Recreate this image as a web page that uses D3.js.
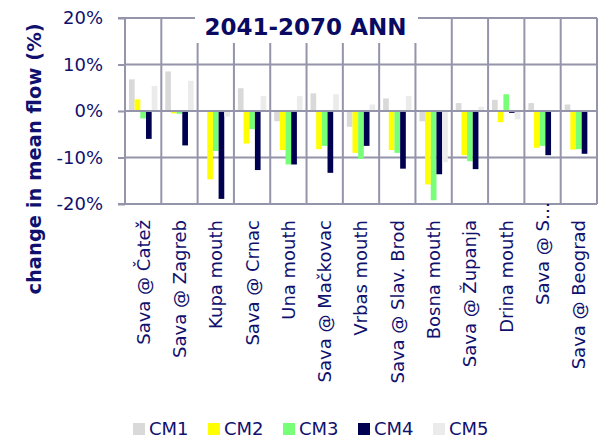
<!DOCTYPE html>
<html><head><meta charset="utf-8">
<script src="https://cdn.jsdelivr.net/npm/d3@7/dist/d3.min.js"></script>
<style>body{margin:0;background:#fff;} svg{display:block;font-family:"DejaVu Sans",Verdana,sans-serif;}</style>
</head><body>
<svg id="chart" width="599" height="438"></svg>
<script>
const categories = ["Sava @ Čatež","Sava @ Zagreb","Kupa mouth","Sava @ Crnac","Una mouth","Sava @ Mačkovac","Vrbas mouth","Sava @ Slav. Brod","Bosna mouth","Sava @ Županja","Drina mouth","Sava @ S…","Sava @ Beograd"];
const seriesNames = ["CM1","CM2","CM3","CM4","CM5"];
const cm1 = [6.8, 8.5, -0.2, 4.9, -2.2, 3.8, -3.4, 2.7, -2.2, 1.7, 2.4, 1.7, 1.4];
const cm2 = [2.5, -0.5, -14.7, -7.0, -8.4, -8.2, -9.0, -8.4, -15.8, -9.5, -2.4, -7.9, -8.3];
const cm3 = [-1.6, -0.6, -8.6, -3.9, -11.5, -7.5, -10.3, -9.0, -19.2, -10.8, 3.6, -7.5, -8.2];
const cm4 = [-6.0, -7.4, -18.9, -12.7, -11.5, -13.3, -7.5, -12.4, -13.6, -12.5, -0.4, -9.5, -9.2];
const cm5 = [5.4, 6.5, -1.2, 3.2, 3.2, 3.6, 1.4, 3.2, -11.0, 0.9, -1.8, 0.1, 0.1];
const yTicks = [20, 10, 0, -10, -20];
const title = "2041-2070 ANN";
const yTitle = "change in mean flow (%)";
const colors = ["#d9d9d9","#ffff00","#77ff77","#000050","#ebebeb"];

const seriesValues = [cm1, cm2, cm3, cm4, cm5];
const textColor = "#10106e";
const gridColor = "#9494aa";

const svg = d3.select("#chart");
const L = 125, R = 597, T = 18, B = 204;

const x = d3.scaleBand().domain(categories).range([L, R]).padding(0);
const xs = d3.scaleBand().domain(seriesNames).range([0, x.bandwidth()]).paddingInner(0).paddingOuter(0.7);
const y = d3.scaleLinear().domain([-20, 20]).range([B, T]);

svg.append("g").selectAll("line").data(yTicks.filter(d => d !== 0)).join("line")
  .attr("x1", L).attr("x2", R).attr("y1", d => y(d)).attr("y2", d => y(d))
  .attr("stroke", gridColor).attr("stroke-width", 2);
const bounds = categories.map(c => x(c)).concat([R]);
svg.append("g").selectAll("line").data(bounds).join("line")
  .attr("x1", d => d).attr("x2", d => d).attr("y1", T).attr("y2", B)
  .attr("stroke", gridColor).attr("stroke-width", 2);

const flat = [];
categories.forEach((c, i) => seriesNames.forEach((s, j) => flat.push({c, s, j, v: seriesValues[j][i]})));
svg.append("g").selectAll("rect").data(flat).join("rect")
  .attr("x", d => x(d.c) + xs(d.s))
  .attr("width", xs.bandwidth())
  .attr("y", d => y(Math.max(0, d.v)))
  .attr("height", d => Math.abs(y(d.v) - y(0)))
  .attr("fill", d => colors[d.j]);

svg.append("line").attr("x1", L).attr("x2", R).attr("y1", y(0)).attr("y2", y(0))
  .attr("stroke", gridColor).attr("stroke-width", 2);

const yAxis = d3.axisLeft(y).tickValues(yTicks).tickSize(7).tickPadding(15).tickFormat(d => d + "%");
const ga = svg.append("g").attr("transform", `translate(${L},0)`).call(yAxis);
ga.select(".domain").attr("stroke", gridColor).attr("stroke-width", 2).attr("d", `M-7,${T}H0V${B}H-7`);
ga.selectAll(".tick line").attr("stroke", gridColor).attr("stroke-width", 2);
ga.selectAll(".tick text").attr("fill", textColor).style("font-size", "18px").style("font-family", "DejaVu Sans, sans-serif");

svg.append("text").attr("transform", "translate(41,159) rotate(-90)")
  .attr("text-anchor", "middle").attr("fill", textColor)
  .style("font-size", "19.5px").style("font-weight", "bold").text(yTitle);

const labY = 220;
categories.forEach(c => {
  const cx = x(c) + x.bandwidth() / 2;
  const trunc = c.endsWith("…");
  const main = trunc ? c.slice(0, -1) : c;
  svg.append("text").attr("transform", `translate(${cx},${labY}) rotate(-90)`)
    .attr("text-anchor", "end").attr("dy", "0.36em").attr("fill", textColor)
    .style("font-size", "18px").text(main);
  if (trunc) {
    svg.append("text").attr("transform", `translate(${cx},${labY}) rotate(-90)`)
      .attr("text-anchor", "start").attr("dy", "0.36em").attr("fill", textColor)
      .style("font-size", "18px").text("…");
  }
});

svg.append("rect").attr("x", 195).attr("y", 0).attr("width", 223).attr("height", 43).attr("fill", "#fff");
svg.append("text").attr("x", 305.5).attr("y", 35).attr("text-anchor", "middle")
  .attr("fill", "#0a0a62").style("font-size", "23px").style("font-weight", "bold").text(title);

const lg = svg.append("g").selectAll("g").data(seriesNames).join("g")
  .attr("transform", (d, i) => `translate(${133 + 75 * i},0)`);
lg.append("rect").attr("x", 0).attr("y", 423).attr("width", 12).attr("height", 12).attr("fill", (d, i) => colors[i]);
lg.append("text").attr("x", 16).attr("y", 435).attr("fill", textColor).style("font-size", "18px").text(d => d);
</script>
</body></html>
